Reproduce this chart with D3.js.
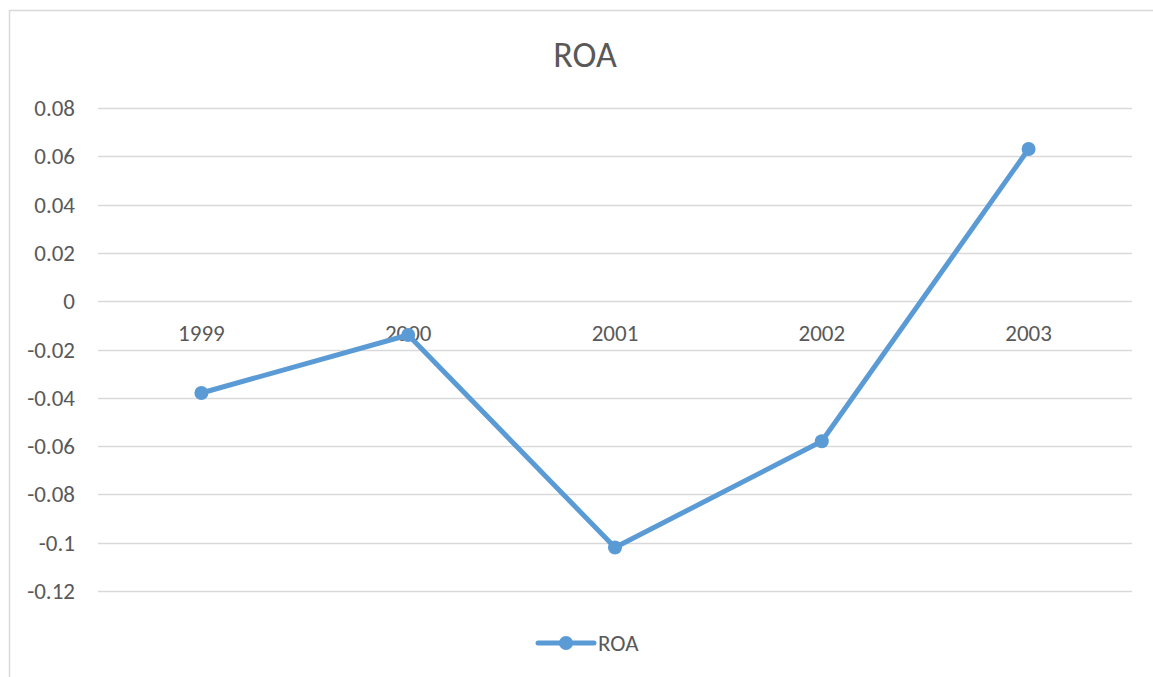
<!DOCTYPE html>
<html>
<head>
<meta charset="utf-8">
<script src="https://cdn.jsdelivr.net/npm/d3@7"></script>
<style>
  body { margin: 0; background: #fff; }
  text { font-family: Carlito, "Open Sans", "Noto Sans", sans-serif; fill: #595959; }
</style>
</head>
<body>
<script>
// chart data
var years = ["1999", "2000", "2001", "2002", "2003"];
var roa = [-0.038, -0.014, -0.102, -0.058, 0.063];
var yTicks = [0.08, 0.06, 0.04, 0.02, 0, -0.02, -0.04, -0.06, -0.08, -0.1, -0.12];
var seriesName = "ROA";

var w = 1153;
var h = 677;
var color = "#5b9bd5";

var svg = d3.select("body").append("svg")
    .attr("width", w)
    .attr("height", h);

// chart border
svg.append("rect")
    .attr("x", 9.5).attr("y", 10.5)
    .attr("width", 1160).attr("height", 700)
    .attr("fill", "none")
    .attr("stroke", "#d9d9d9")
    .attr("stroke-width", 1.5);

var margin = {left: 98, right: 21, top: 108, bottom: 86};

var x = d3.scaleBand()
    .domain(years)
    .range([margin.left, w - margin.right]);

var y = d3.scaleLinear()
    .domain([-0.12, 0.08])
    .range([h - margin.bottom, margin.top]);

// gridlines
svg.append("g").selectAll("line")
    .data(yTicks)
    .enter().append("line")
    .attr("x1", margin.left)
    .attr("x2", w - margin.right)
    .attr("y1", d => Math.round(y(d)) + 0.5)
    .attr("y2", d => Math.round(y(d)) + 0.5)
    .attr("stroke", "#d9d9d9")
    .attr("stroke-width", 1.5);

// y axis labels (plain hyphen for negatives, like the original)
svg.append("g").selectAll("text")
    .data(yTicks)
    .enter().append("text")
    .attr("x", 75)
    .attr("y", d => y(d))
    .attr("dy", "0.35em")
    .attr("text-anchor", "end")
    .style("font-size", "23px")
    .text(d => String(d));

// category labels sit just under the zero line
svg.append("g").selectAll("text")
    .data(years)
    .enter().append("text")
    .attr("x", d => x(d) + x.bandwidth() / 2)
    .attr("y", y(0) + 40)
    .attr("text-anchor", "middle")
    .style("font-size", "23px")
    .text(d => d);

// title
svg.append("text")
    .attr("x", 585)
    .attr("y", 67)
    .attr("text-anchor", "middle")
    .style("font-size", "36px")
    .text(seriesName);

var pts = years.map((d, i) => [x(d) + x.bandwidth() / 2, y(roa[i])]);

svg.append("path")
    .attr("d", d3.line()(pts))
    .attr("fill", "none")
    .attr("stroke", color)
    .attr("stroke-width", 5)
    .attr("stroke-linejoin", "round")
    .attr("stroke-linecap", "round");

svg.append("g").selectAll("circle")
    .data(pts)
    .enter().append("circle")
    .attr("cx", d => d[0])
    .attr("cy", d => d[1])
    .attr("r", 7)
    .attr("fill", color);

// legend
var leg = svg.append("g").attr("transform", "translate(538,643)");
leg.append("line")
    .attr("x1", 0).attr("x2", 56)
    .attr("stroke", color)
    .attr("stroke-width", 5)
    .attr("stroke-linecap", "round");
leg.append("circle").attr("cx", 28).attr("r", 7).attr("fill", color);
leg.append("text")
    .attr("x", 60)
    .attr("dy", "0.35em")
    .style("font-size", "23px")
    .text(seriesName);
</script>
</body>
</html>
